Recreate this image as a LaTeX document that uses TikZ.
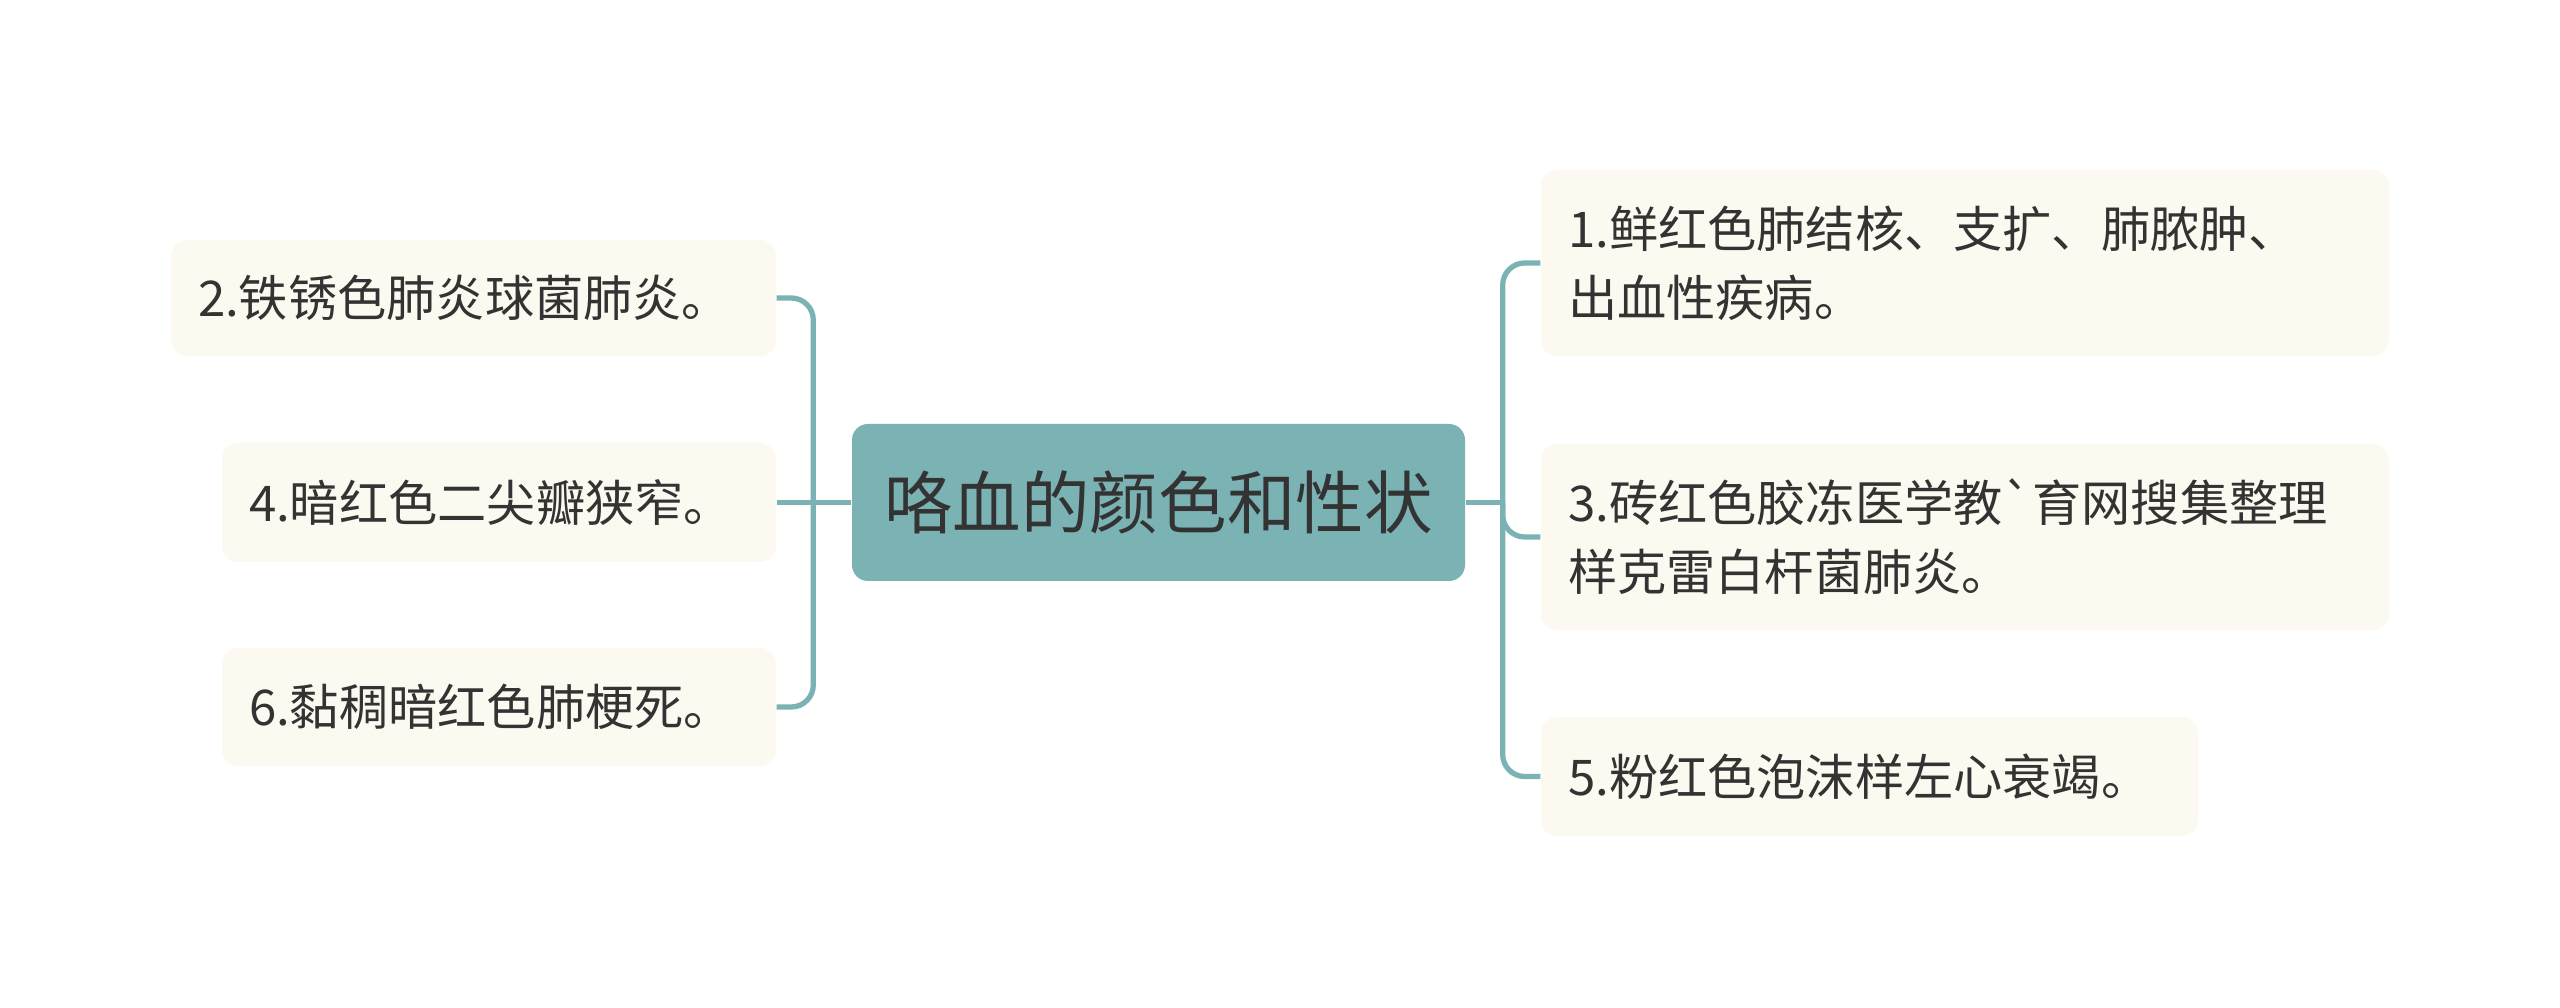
\documentclass[tikz,border=0pt]{standalone}
\usepackage{fontspec}
\setmainfont{Noto Sans CJK SC}[Ligatures=TeXOff]
\definecolor{rootteal}{RGB}{123,179,181}
\definecolor{leafcream}{RGB}{252,250,240}
\definecolor{inkgray}{RGB}{51,51,51}
\tikzset{
  rootbox/.style={fill=rootteal, rounded corners=0.16cm, text=inkgray,
    font=\fontsize{19.5pt}{24pt}\selectfont, inner sep=0pt},
  leafbox/.style={fill=leafcream, rounded corners=0.16cm, text=inkgray,
    font=\fontsize{14pt}{19.6pt}\selectfont, align=left, inner xsep=0.27cm, inner ysep=0pt},
  link/.style={draw=rootteal, line width=1.5pt, rounded corners=0.22cm},
}
\begin{document}
\begin{tikzpicture}
  \useasboundingbox[fill=white] (0,0) rectangle (25.6,-10.08);

  % centre
  \node[rootbox, minimum width=6.13cm, minimum height=1.57cm] (root) at (11.585,-5.025) {咯血的颜色和性状};

  % left side
  \node[leafbox, text width=5.51cm, minimum height=1.16cm] (c2) at (4.735,-2.98) {2.铁锈色肺炎球菌肺炎。};
  \node[leafbox, text width=5.00cm, minimum height=1.19cm] (c4) at (4.99,-5.025) {4.暗红色二尖瓣狭窄。};
  \node[leafbox, text width=5.00cm, minimum height=1.18cm] (c6) at (4.99,-7.07) {6.黏稠暗红色肺梗死。};

  % right side
  \node[leafbox, text width=7.94cm, minimum height=1.86cm] (c1) at (19.65,-2.63) {1.鲜红色肺结核、支扩、肺脓肿、\\出血性疾病。};
  \node[leafbox, text width=7.94cm, minimum height=1.86cm] (c3) at (19.65,-5.37) {3.砖红色胶冻医学教`育网搜集整理\\样克雷白杆菌肺炎。};
  \node[leafbox, text width=6.03cm, minimum height=1.19cm] (c5) at (18.695,-7.765) {5.粉红色泡沫样左心衰竭。};

  % connectors
  \coordinate (lbar) at ([xshift=-0.38cm]root.west);
  \coordinate (rbar) at ([xshift=0.37cm]root.east);
  \draw[link] (root.west) -- (c4.east);
  \draw[link] (c2.east) -| (lbar);
  \draw[link] (c6.east) -| (lbar);
  \draw[link] (root.east) -- (rbar);
  \draw[link] (rbar) |- (c1.west);
  \draw[link] (rbar) |- (c3.west);
  \draw[link] (rbar) |- (c5.west);
\end{tikzpicture}
\end{document}
